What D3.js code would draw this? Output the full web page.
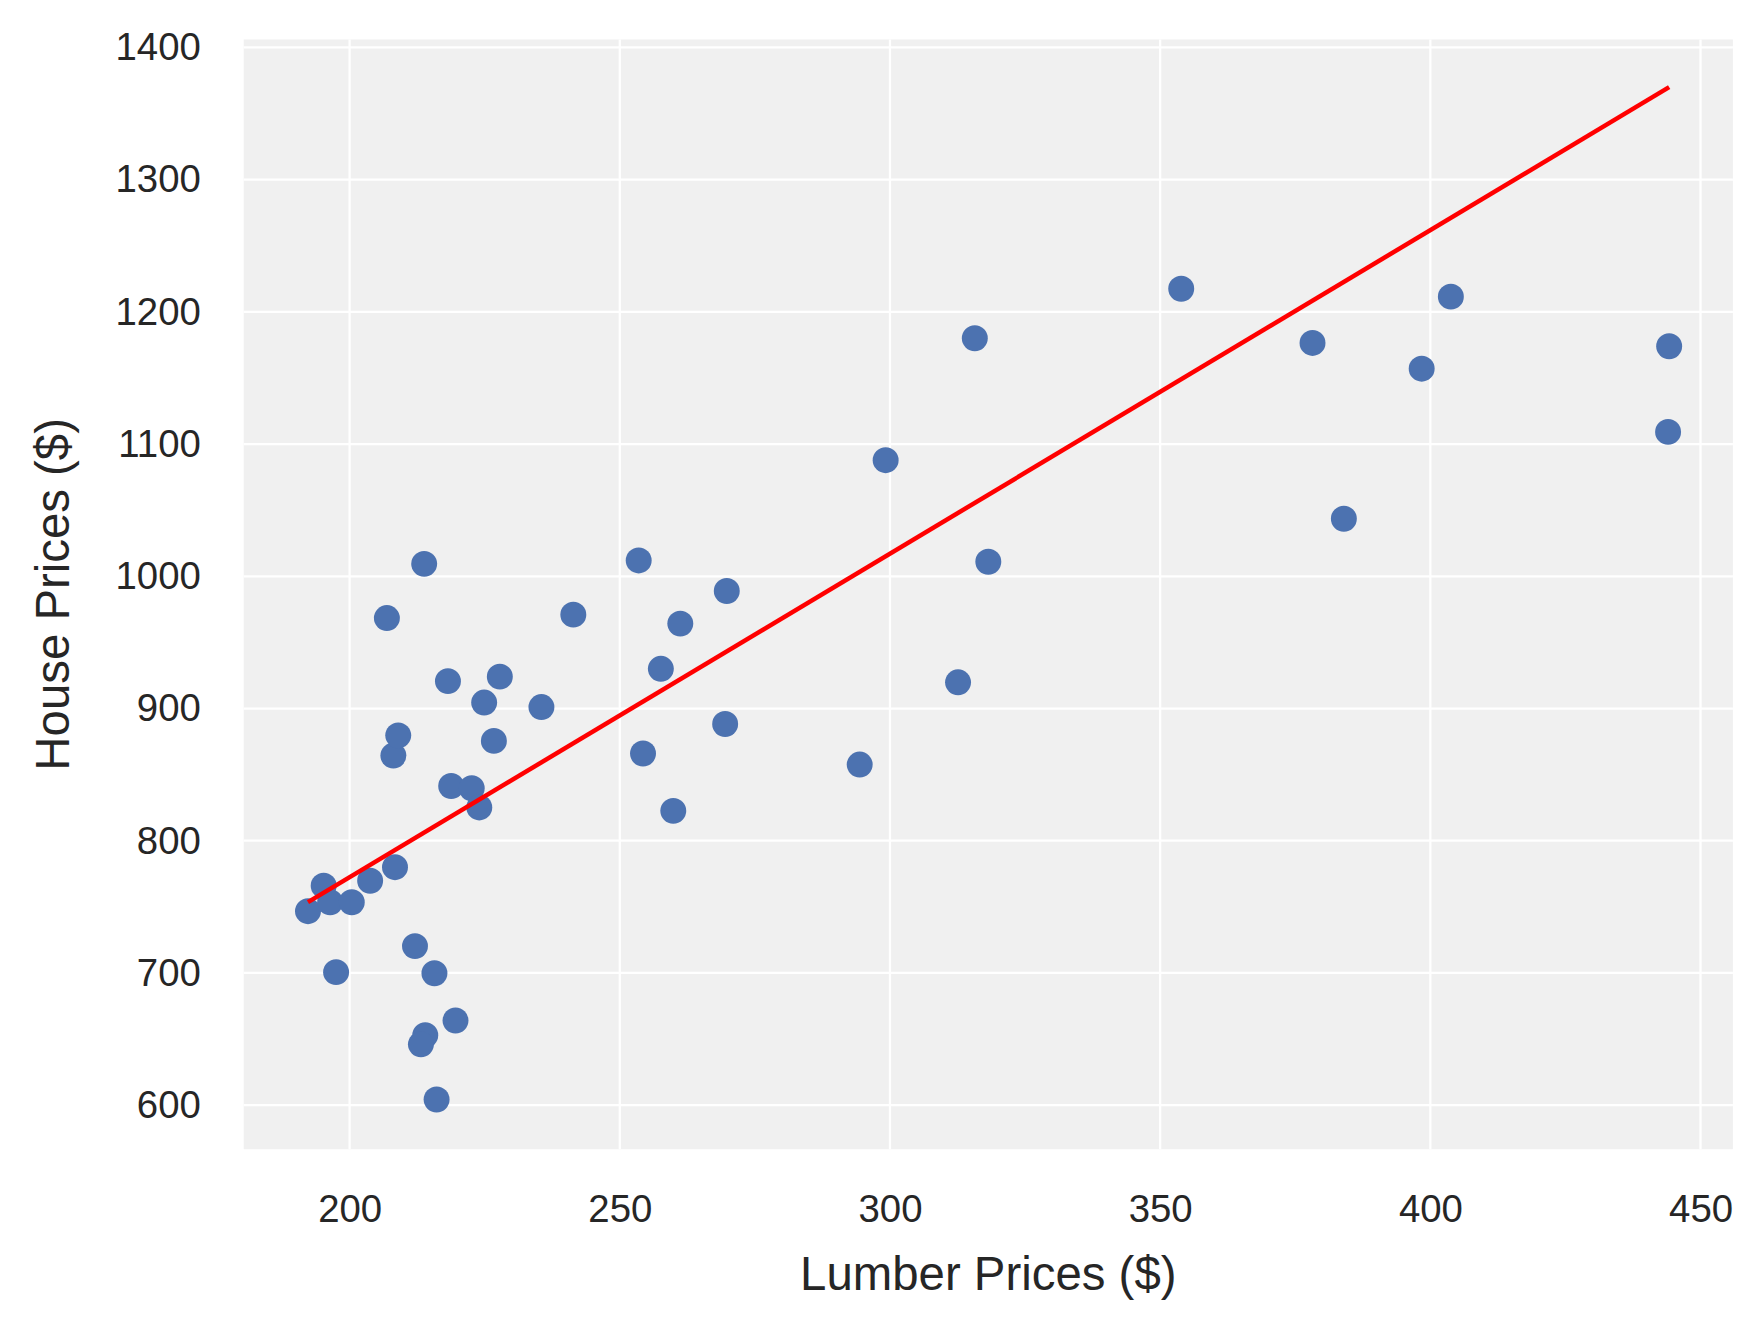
<!DOCTYPE html>
<html>
<head>
<meta charset="utf-8">
<script src="https://cdn.jsdelivr.net/npm/d3@7"></script>
<style>
  body { margin: 0; background: #fff; }
  text { font-family: "Liberation Sans", Arial, sans-serif; fill: #262626; }
</style>
</head>
<body>
<div id="vis"></div>
<script>
// lumber vs house prices
const lumber = [192.3, 195.2, 196.4, 200.4, 203.8, 197.5, 208.4, 206.9, 208.1, 209.0,
  213.8, 212.1, 215.7, 214.0, 213.2, 216.1, 219.6, 218.2, 218.8, 222.6,
  224.0, 224.9, 226.7, 227.8, 235.5, 241.4, 253.5, 257.6, 254.3, 261.2,
  259.9, 269.8, 269.5, 294.4, 299.2, 312.6, 315.7, 318.2, 353.9, 378.2,
  384.0, 398.4, 403.8, 444.2, 444.0];
const house = [746.7, 766, 753.5, 753.5, 769.7, 700.6, 780, 968.4, 864.4, 879.7,
  1009.4, 720.3, 699.8, 652.9, 646, 604.3, 664, 920.7, 841.4, 839.7,
  825.2, 904.5, 875.5, 924.1, 901.1, 971, 1012, 930, 866, 964.2,
  822.6, 988.9, 888.3, 857.6, 1087.8, 919.8, 1180, 1011, 1217.5, 1176.5,
  1043.5, 1157, 1211.5, 1174, 1109.2];
const fitSlope = 2.447;
const fitIntercept = 283;
const xTicks = [200, 250, 300, 350, 400, 450];
const yTicks = [600, 700, 800, 900, 1000, 1100, 1200, 1300, 1400];

const W = 1560, H = 1174;
const margin = { top: 35, right: 24, bottom: 155, left: 216 };
const width = W - margin.left - margin.right;
const height = H - margin.top - margin.bottom;

const root = d3.select("#vis").append("svg")
  .attr("width", 1760).attr("height", 1324)
  .attr("viewBox", `0 0 ${W} ${H}`)
  .attr("preserveAspectRatio", "none");
const svg = root.append("g").attr("transform", `translate(${margin.left}, ${margin.top})`);

const x = d3.scaleLinear().domain([180.4, 456]).range([0, width]);
const y = d3.scaleLinear().domain([566.7, 1406]).range([height, 0]);

svg.append("rect").attr("width", width).attr("height", height).attr("fill", "#f0f0f0");

svg.selectAll("line.gx").data(xTicks).join("line").attr("class", "gx")
  .attr("x1", d => x(d)).attr("x2", d => x(d)).attr("y1", 0).attr("y2", height)
  .attr("stroke", "#fff").attr("stroke-width", 2);
svg.selectAll("line.gy").data(yTicks).join("line").attr("class", "gy")
  .attr("y1", d => y(d)).attr("y2", d => y(d)).attr("x1", 0).attr("x2", width)
  .attr("stroke", "#fff").attr("stroke-width", 2);

const xAxis = svg.append("g").attr("transform", `translate(0, ${height})`)
  .call(d3.axisBottom(x).tickValues(xTicks).tickFormat(d3.format("d")).tickSize(0).tickPadding(40));
const yAxis = svg.append("g")
  .call(d3.axisLeft(y).tickValues(yTicks).tickFormat(d3.format("d")).tickSize(0).tickPadding(38));
[xAxis, yAxis].forEach(a => {
  a.select(".domain").remove();
  a.selectAll("text").attr("font-size", 34).attr("fill", "#262626")
    .attr("font-family", "Liberation Sans, Arial, sans-serif");
});

svg.selectAll("circle").data(lumber).join("circle")
  .attr("cx", d => x(d)).attr("cy", (d, i) => y(house[i]))
  .attr("r", 11.5).attr("fill", "#4c72b0");

const xr = d3.extent(lumber);
svg.append("line")
  .attr("x1", x(xr[0])).attr("y1", y(fitSlope * xr[0] + fitIntercept))
  .attr("x2", x(xr[1])).attr("y2", y(fitSlope * xr[1] + fitIntercept))
  .attr("stroke", "red").attr("stroke-width", 4);

svg.append("text").attr("x", width / 2).attr("y", height + 125)
  .attr("text-anchor", "middle").attr("font-size", 42).text("Lumber Prices ($)");
svg.append("text").attr("transform", "rotate(-90)")
  .attr("x", -height / 2).attr("y", -155)
  .attr("text-anchor", "middle").attr("font-size", 42).text("House Prices ($)");
</script>
</body>
</html>
